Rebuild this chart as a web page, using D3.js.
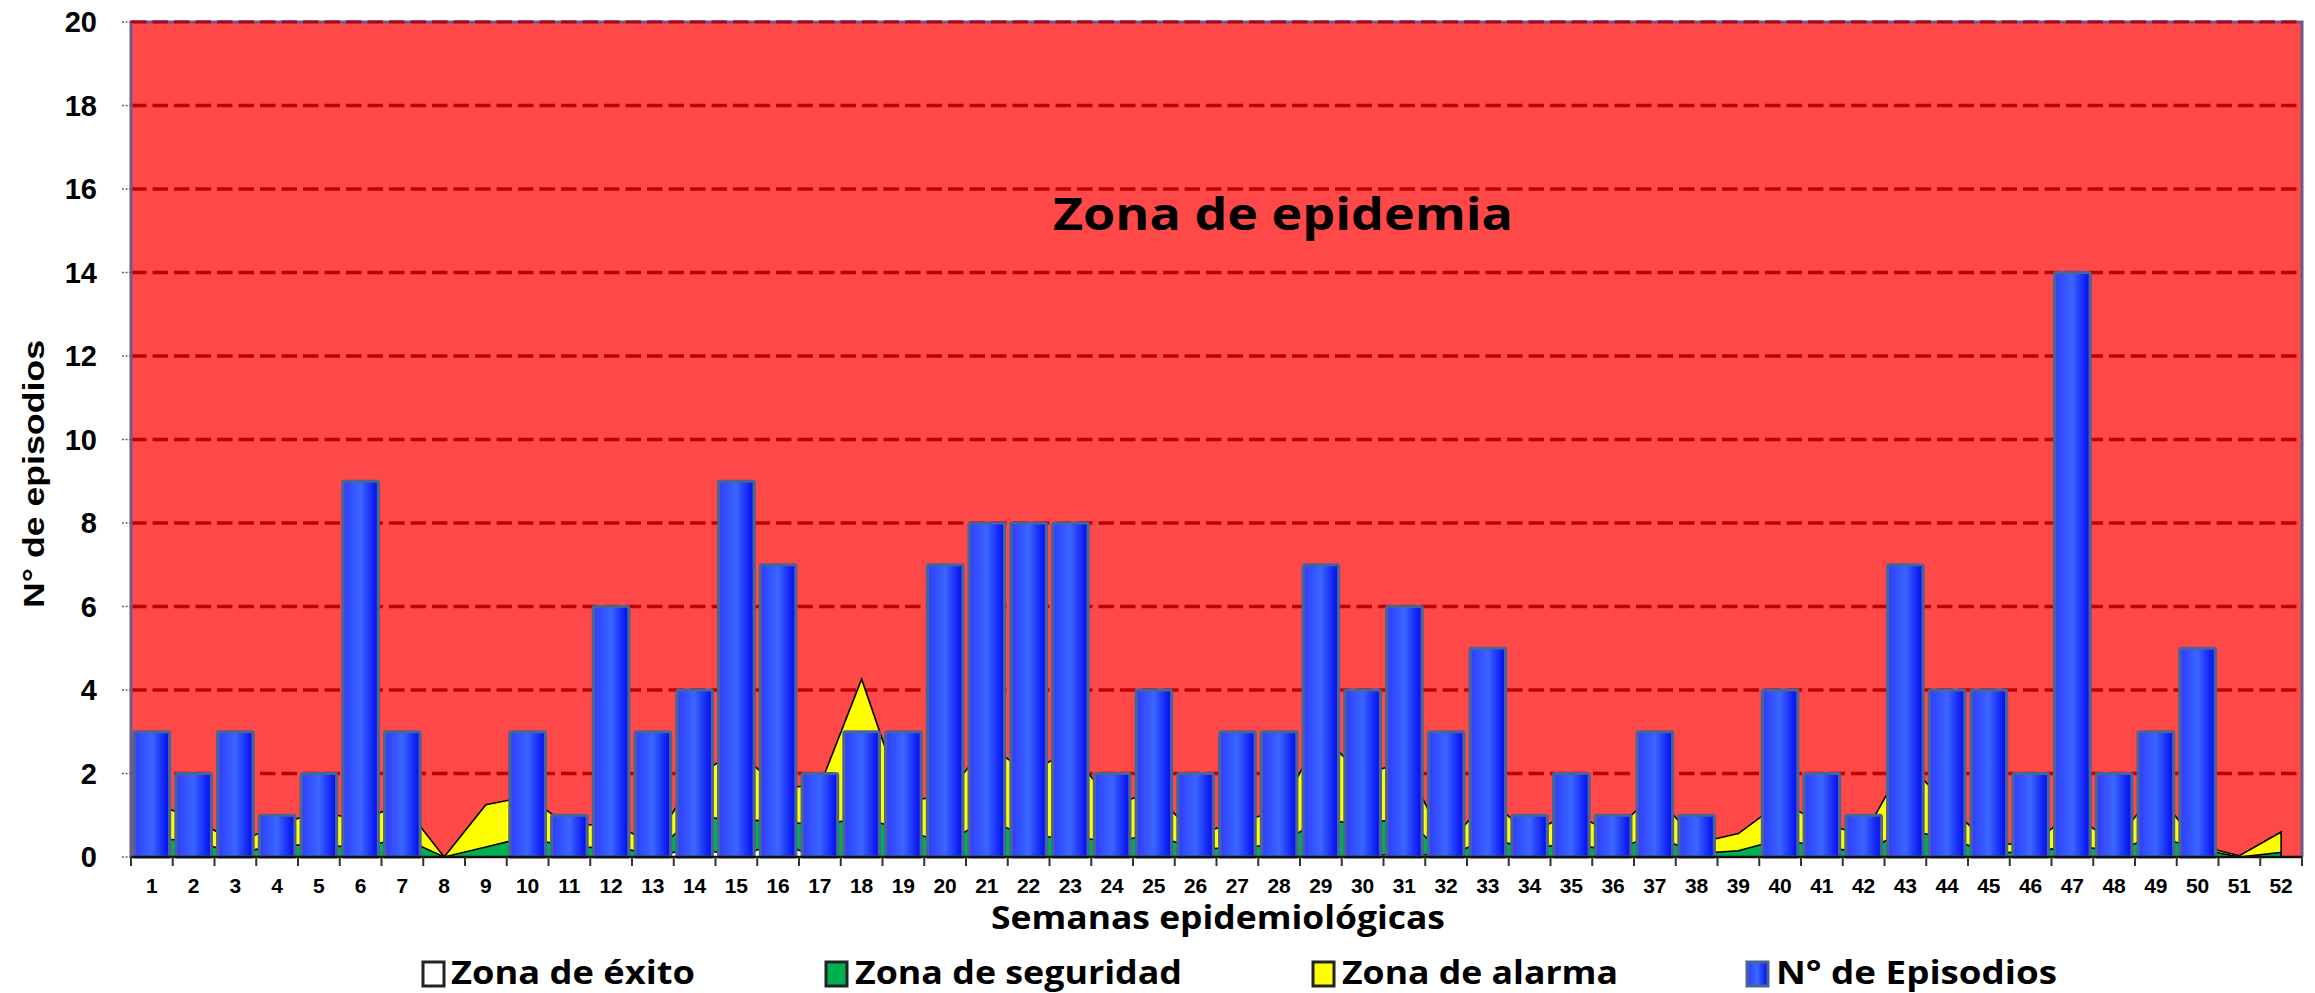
<!DOCTYPE html>
<html>
<head>
<meta charset="utf-8">
<script src="https://cdn.jsdelivr.net/npm/d3@7"></script>
<style>
body{margin:0;background:#fff;}
svg{display:block;}
</style>
</head>
<body>
<svg id="chart" width="2315" height="993"></svg>
<script>
//////////////datos
var semanas=["1","2","3","4","5","6","7","8","9","10","11","12","13","14","15","16","17","18","19","20","21","22","23","24","25","26",
    "27","28","29","30","31","32","33","34","35","36","37","38","39","40","41","42","43","44","45","46","47","48","49","50","51","52"];
var episodios=[3,2,3,1,2,9,3,0,0,3,1,6,3,4,9,7,2,3,3,7,8,8,8,2,4,2,
    3,3,7,4,6,3,5,1,2,1,3,1,0,4,2,1,7,4,4,2,14,2,3,5,0,0];
//limite superior de cada zona (curva endemica)
var zonaExito=[0,0,0,0,0,0,0,0,0,0,0,0,0,0.22,0.02,0.32,0,0,0,0,0,0,0,0,0,0,
    0,0,0,0,0.1,0,0,0,0,0,0,0,0,0,0,0,0,0,0,0,0,0,0,0,0,0];
var zonaSeguridad=[0.43,0.4,0.08,0.28,0.29,0.22,0.46,0,0.24,0.48,0.22,0.24,0.08,0.97,0.89,0.86,0.76,0.94,0.66,0.33,0.9,0.48,0.48,0.37,0.53,0.19,
    0.22,0.3,0.9,0.78,0.95,0.03,0.41,0.24,0.29,0.17,0.52,0.08,0.15,0.42,0.25,0.1,0.65,0.45,0.12,0.1,0.28,0.14,0.5,0.2,0,0.11];
var zonaAlarma=[1.29,0.94,0.33,0.75,1.1,0.87,1.28,0,1.25,1.45,0.72,0.82,0.32,1.88,2.57,1.67,1.7,4.26,1.35,1.45,2.7,2.0,2.57,1.27,1.54,0.52,
    0.85,1.09,2.95,1.95,2.3,0.25,1.4,0.55,1.07,0.57,1.55,0.33,0.56,1.3,0.83,0.5,2.3,1.26,0.32,0.3,1.05,0.32,1.59,0.28,0.03,0.6];
var yTicks=[0,2,4,6,8,10,12,14,16,18,20];
var leyenda=["Zona de éxito","Zona de seguridad","Zona de alarma","N° de Episodios"];

//////////////layout
var plot={left:131,right:2302,top:22,bottom:857};
var legendPos=[{bx:423,tx:451,tw:244,fill:"#FFFFFF"},{bx:826,tx:855,tw:327,fill:"#00B050"},
    {bx:1313,tx:1342,tw:276,fill:"#FFFF00"},{bx:1747,tx:1776,tw:281,fill:"url(#gradBar)"}];

var svg=d3.select("#chart");
var defs=svg.append("defs");
var grad=defs.append("linearGradient").attr("id","gradBar")
    .attr("x1",0).attr("x2",1).attr("y1",0).attr("y2",0);
grad.append("stop").attr("offset","0%").attr("stop-color","#2E3CFF");
grad.append("stop").attr("offset","50%").attr("stop-color","#3A66FF");
grad.append("stop").attr("offset","100%").attr("stop-color","#0008F2");

var x=d3.scaleBand().domain(semanas).range([plot.left,plot.right])
    .paddingInner(0.15).paddingOuter(0.075);
var y=d3.scaleLinear().domain([0,20]).range([plot.bottom,plot.top]);
var cx=function (d) {return x(d)+x.bandwidth()/2};

// fondo = zona de epidemia
svg.append("rect")
    .attr("x",plot.left).attr("y",plot.top)
    .attr("width",plot.right-plot.left).attr("height",plot.bottom-plot.top)
    .attr("fill","#FF4848");

// lineas de grilla
svg.append("g").selectAll("line")
    .data(yTicks.filter(function (d) {return d>0}))
    .enter().append("line")
    .attr("x1",plot.left).attr("x2",plot.right)
    .attr("y1",function (d) {return y(d)}).attr("y2",function (d) {return y(d)})
    .attr("stroke","#C00000").attr("stroke-width",3.5)
    .attr("stroke-dasharray","15.5,6");

// areas (zonas)
function zoneArea(vals,color) {
    var area=d3.area()
        .x(function (d,i) {return cx(semanas[i])})
        .y0(y(0))
        .y1(function (d) {return y(d)});
    svg.append("path")
        .datum(vals)
        .attr("d",area)
        .attr("fill",color)
        .attr("stroke","#000")
        .attr("stroke-width",1.6)
        .attr("stroke-linejoin","miter");
}
zoneArea(zonaAlarma,"#FFFF00");
zoneArea(zonaSeguridad,"#00B050");
zoneArea(zonaExito,"#FFFFFF");

// barras
svg.append("g").selectAll("rect")
    .data(episodios.map(function (v,i) {return {s:semanas[i],v:v}}).filter(function (d) {return d.v>0}))
    .enter().append("rect")
    .attr("x",function (d) {return x(d.s)})
    .attr("y",function (d) {return y(d.v)})
    .attr("width",x.bandwidth())
    .attr("height",function (d) {return y(0)-y(d.v)})
    .attr("fill","url(#gradBar)")
    .attr("stroke","#4A6493")
    .attr("stroke-width",3.2)
    .attr("rx",1.5);

// marco
svg.append("path")
    .attr("d","M"+plot.left+","+plot.bottom+"V"+plot.top+"H"+plot.right+"V"+plot.bottom)
    .attr("fill","none").attr("stroke","#6A5A8E").attr("stroke-width",3);
svg.append("line")
    .attr("x1",plot.left).attr("x2",plot.right)
    .attr("y1",plot.top).attr("y2",plot.top)
    .attr("stroke","#C00000").attr("stroke-width",2).attr("stroke-dasharray","15.5,6");
svg.append("line")
    .attr("x1",plot.left).attr("x2",plot.right)
    .attr("y1",plot.bottom).attr("y2",plot.bottom)
    .attr("stroke","#111").attr("stroke-width",2.5);

// eje x: marcas entre categorias
var bounds=d3.range(semanas.length+1).map(function (i) {return plot.left+i*x.step()});
svg.append("g").selectAll("line")
    .data(bounds).enter().append("line")
    .attr("x1",function (d) {return d}).attr("x2",function (d) {return d})
    .attr("y1",plot.bottom).attr("y2",plot.bottom+9)
    .attr("stroke","#333").attr("stroke-width",2);

svg.append("g").selectAll("text")
    .data(semanas).enter().append("text")
    .attr("x",function (d) {return cx(d)})
    .attr("y",893)
    .attr("text-anchor","middle")
    .style("font-family","'Liberation Sans', Arial, sans-serif")
    .style("font-weight","bold").style("font-size","21px")
    .text(function (d) {return d});

// eje y
svg.append("g").selectAll("line")
    .data(yTicks).enter().append("line")
    .attr("x1",plot.left-9).attr("x2",plot.left)
    .attr("y1",function (d) {return y(d)}).attr("y2",function (d) {return y(d)})
    .attr("stroke","#6A5A8E").attr("stroke-width",1.5).attr("stroke-dasharray","2,1.5");

svg.append("g").selectAll("text")
    .data(yTicks).enter().append("text")
    .attr("x",97)
    .attr("y",function (d) {return y(d)})
    .attr("dy","0.36em")
    .attr("text-anchor","end")
    .style("font-family","'Liberation Sans', Arial, sans-serif")
    .style("font-weight","bold").style("font-size","29px")
    .text(function (d) {return d});

// titulos
svg.append("text")
    .attr("transform","translate(44,474) rotate(-90)")
    .attr("text-anchor","middle")
    .attr("textLength",268).attr("lengthAdjust","spacingAndGlyphs")
    .style("font-family","'Liberation Sans', Arial, sans-serif")
    .style("font-weight","bold").style("font-size","30px")
    .text("N° de episodios");

svg.append("text")
    .attr("x",991).attr("y",929)
    .attr("textLength",454).attr("lengthAdjust","spacingAndGlyphs")
    .style("font-family","'Open Sans', sans-serif")
    .style("font-weight","bold").style("font-size","33px")
    .text("Semanas epidemiológicas");

svg.append("text")
    .attr("x",1053).attr("y",230)
    .attr("textLength",460).attr("lengthAdjust","spacingAndGlyphs")
    .style("font-family","'Open Sans', sans-serif")
    .style("font-weight","bold").style("font-size","44px")
    .text("Zona de epidemia");

// leyenda
var leg=svg.append("g").selectAll("g")
    .data(leyenda).enter().append("g");
leg.append("rect")
    .attr("x",function (d,i) {return legendPos[i].bx})
    .attr("y",962).attr("width",21).attr("height",24)
    .attr("fill",function (d,i) {return legendPos[i].fill})
    .attr("stroke",function (d,i) {return i==3?"#4A6493":"#222"})
    .attr("stroke-width",3);
leg.append("text")
    .attr("x",function (d,i) {return legendPos[i].tx})
    .attr("y",984)
    .attr("textLength",function (d,i) {return legendPos[i].tw})
    .attr("lengthAdjust","spacingAndGlyphs")
    .style("font-family","'Open Sans', sans-serif")
    .style("font-weight","bold").style("font-size","32px")
    .text(function (d) {return d});
</script>
</body>
</html>
